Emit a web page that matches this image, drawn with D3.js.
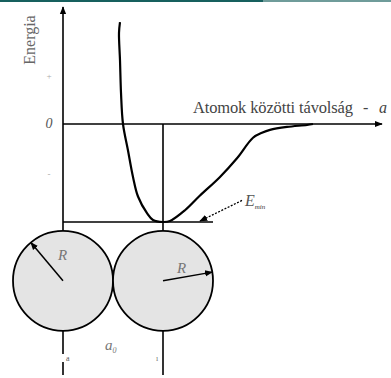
<!DOCTYPE html>
<html lang="hu">
<head>
<meta charset="UTF-8">
<title>Energia</title>
<script type="text/javascript" src="https://cdn.jsdelivr.net/npm/d3@7"></script>
<style type="text/css">
body{ margin:0; background:#fff; }
.line{ stroke:#000; stroke-width:1.6px; fill:none; }
.curve{ stroke:#000; stroke-width:2.2px; fill:none; }
.atom{ fill:#e4e4e4; stroke:#000; stroke-width:1.8px; }
</style>
</head>
<body>
<div id="chart"></div>
<script type="text/javascript">
// graph area
var width = 391;
var height = 378;
var serif = "'Liberation Serif', 'Times New Roman', Times, 'DejaVu Serif', serif";

// data: distance (a0 = 1) and energy (Emin = -1)
var distLeft   = [0.57, 0.56, 0.57, 0.58, 0.60, 0.65, 0.70, 0.75, 0.84, 0.90, 1.00];
var energyLeft = [1.04, 0.93, 0.65, 0.32, 0.00, -0.27, -0.54, -0.74, -0.91, -0.98, -1.00];
var distRight   = [1.00, 1.07, 1.22, 1.37, 1.57, 1.74, 1.90, 1.99, 2.07, 2.24, 2.44, 2.50];
var energyRight = [-1.00, -0.99, -0.88, -0.73, -0.54, -0.35, -0.14, -0.09, -0.06, -0.03, -0.01, 0.00];

var tickValues = [0.5, 0, -0.5];
var tickLabels = ["+", "0", "-"];

var atomCenters = [0, 1];
var atomRadius = 0.5;
var atomLevel = -1.6;

var yTitle = "Energia";
var xTitle = "Atomok közötti távolság";

// scales
var Xscale = d3.scaleLinear().domain([0, 3.17]).range([63, 380]);
var Yscale = d3.scaleLinear().domain([-1, 1]).range([222, 26]);

var svg = d3.select("#chart")
	.append("svg")
	.attr("width", width)
	.attr("height", height)
	.attr("font-family", serif);

// arrow heads
var defs = svg.append("defs");
defs.append("marker")
	.attr("id", "arrBig")
	.attr("viewBox", "0 0 10 10")
	.attr("refX", 9).attr("refY", 5)
	.attr("markerWidth", 8).attr("markerHeight", 8)
	.attr("markerUnits", "userSpaceOnUse")
	.attr("orient", "auto")
	.append("path")
	.attr("d", "M0,1L10,5L0,9Z")
	.attr("fill", "#000");

// header band
svg.append("rect").attr("x", 0).attr("y", 0).attr("width", 263).attr("height", 2).attr("fill", "#17605e");
svg.append("rect").attr("x", 263).attr("y", 0).attr("width", width - 263).attr("height", 2).attr("fill", "#6f9c9a");

// y axis (energy) going down to the atom below
svg.append("line").attr("class", "line")
	.attr("x1", Xscale(0)).attr("y1", Yscale(atomLevel))
	.attr("x2", Xscale(0)).attr("y2", 7)
	.attr("marker-end", "url(#arrBig)");

// x axis at energy 0
svg.append("line").attr("class", "line")
	.attr("x1", Xscale(0)).attr("y1", Yscale(0))
	.attr("x2", Xscale(3.17) + 2).attr("y2", Yscale(0))
	.attr("marker-end", "url(#arrBig)");

// Emin level and a0 line
svg.append("line").attr("class", "line")
	.attr("x1", Xscale(0)).attr("y1", Yscale(-1))
	.attr("x2", Xscale(1.5)).attr("y2", Yscale(-1));
svg.append("line").attr("class", "line")
	.attr("x1", Xscale(1)).attr("y1", Yscale(0))
	.attr("x2", Xscale(1)).attr("y2", Yscale(atomLevel));

// lines below the atoms
svg.selectAll("line.down")
	.data(atomCenters)
	.enter()
	.append("line")
	.attr("class", "line down")
	.attr("x1", function(d){ return Xscale(d); })
	.attr("x2", function(d){ return Xscale(d); })
	.attr("y1", Yscale(atomLevel))
	.attr("y2", 375);
svg.append("rect").attr("x", Xscale(0) - 2).attr("y", 354).attr("width", 4).attr("height", 8).attr("fill", "#fff");

// potential curve
var curvePts = distLeft.map(function(d, i){ return [d, energyLeft[i]]; })
	.concat(distRight.slice(1).map(function(d, i){ return [d, energyRight[i + 1]]; }));
var valueLine = d3.line()
	.x(function(d){ return Xscale(d[0]); })
	.y(function(d){ return Yscale(d[1]); })
	.curve(d3.curveCatmullRom);
svg.append("path").attr("class", "curve")
	.attr("d", valueLine(curvePts));

// atoms
svg.selectAll("circle.atom")
	.data(atomCenters)
	.enter()
	.append("circle")
	.attr("class", "atom")
	.attr("cx", function(d){ return Xscale(d); })
	.attr("cy", Yscale(atomLevel))
	.attr("r", Xscale(atomRadius) - Xscale(0));

// radius arrows
var rAngles = [-130, -10];
svg.selectAll("line.rad")
	.data(atomCenters)
	.enter()
	.append("line")
	.attr("class", "rad")
	.attr("stroke", "#000")
	.attr("stroke-width", 1.5)
	.attr("x1", function(d){ return Xscale(d); })
	.attr("y1", Yscale(atomLevel))
	.attr("x2", function(d, i){ return Xscale(d) + (Xscale(atomRadius) - Xscale(0)) * Math.cos(rAngles[i] * Math.PI / 180); })
	.attr("y2", function(d, i){ return Yscale(atomLevel) + (Xscale(atomRadius) - Xscale(0)) * Math.sin(rAngles[i] * Math.PI / 180); })
	.attr("marker-end", "url(#arrBig)");
svg.selectAll("text.r")
	.data(atomCenters)
	.enter()
	.append("text")
	.attr("x", function(d, i){ return Xscale(d) + (i == 0 ? -5 : 14); })
	.attr("y", function(d, i){ return Yscale(atomLevel) + (i == 0 ? -21 : -8); })
	.attr("font-size", "15px")
	.attr("font-style", "italic")
	.attr("fill", "#777")
	.text("R");

// Emin arrow
svg.append("line")
	.attr("stroke", "#000")
	.attr("stroke-width", 1.3)
	.attr("stroke-dasharray", "2,1.5")
	.attr("x1", Xscale(1.79)).attr("y1", Yscale(-0.78))
	.attr("x2", Xscale(1.37)).attr("y2", Yscale(-0.99))
	.attr("marker-end", "url(#arrBig)");
var emin = svg.append("text")
	.attr("x", Xscale(1.82)).attr("y", Yscale(-0.84))
	.attr("font-size", "16px").attr("font-style", "italic").attr("fill", "#555");
emin.append("tspan").text("E");
emin.append("tspan").attr("font-size", "7px").attr("dy", 3).attr("fill", "#333").text("min");

// tick labels
svg.selectAll("text.tick")
	.data(tickValues)
	.enter()
	.append("text")
	.attr("x", 49)
	.attr("y", function(d){ return Yscale(d) + 4; })
	.attr("text-anchor", "middle")
	.attr("font-size", function(d){ return d == 0 ? "14px" : "9px"; })
	.attr("font-style", "italic")
	.attr("fill", function(d){ return d == 0 ? "#555" : "#aaa"; })
	.text(function(d, i){ return tickLabels[i]; });

// titles
svg.append("text")
	.attr("transform", "translate(35,40) rotate(-90)")
	.attr("text-anchor", "middle")
	.attr("font-size", "16px")
	.attr("fill", "#666")
	.text(yTitle);
var xt = svg.append("text")
	.attr("x", 193).attr("y", 113)
	.attr("font-size", "16.5px")
	.attr("fill", "#444")
	.attr("textLength", 160)
	.text(xTitle);
svg.append("text").attr("x", 363).attr("y", 113).attr("font-size", "16px").attr("fill", "#444").text("-");
svg.append("text").attr("x", 379).attr("y", 113).attr("font-size", "16px").attr("font-style", "italic").attr("fill", "#444").text("a");

// a0 label and small marks
var a0 = svg.append("text")
	.attr("x", 105).attr("y", 350)
	.attr("font-size", "15px").attr("font-style", "italic").attr("fill", "#777");
a0.append("tspan").text("a");
a0.append("tspan").attr("font-size", "8px").attr("dy", 3).text("0");
svg.append("text").attr("x", 66).attr("y", 361).attr("font-size", "8px").attr("fill", "#555").text("a");
svg.append("text").attr("x", 156).attr("y", 361).attr("font-size", "8px").attr("fill", "#777").text("ı");
</script>
</body>
</html>
